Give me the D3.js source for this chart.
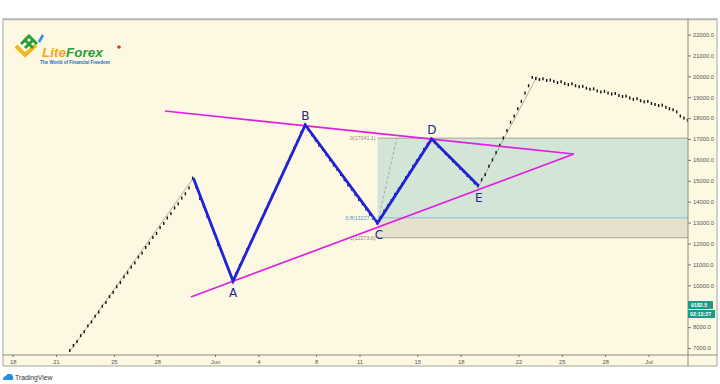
<!DOCTYPE html>
<html lang="en-US">
<head>
<meta charset="utf-8">
<style>
  body { margin: 0; background: #fff; }
  svg { display: block; font-family: "Liberation Sans", Arial, sans-serif; }
</style>
</head>
<body>
<div id="chart"></div>
<script src="https://cdnjs.cloudflare.com/ajax/libs/d3/7.8.5/d3.min.js"></script>
<script>
var WIDTH = 720, HEIGHT = 384;

// 6-hour bars starting 2019-05-22 00:00
var barStart = new Date(2019, 4, 22, 0);
var barHours = 6;
var closes = [
  6880, 7120, 7310, 7590, 7780, 8060, 8250, 8520, 8720, 9000, 9180, 9460, 9660, 9930, 10130, 10400,
  10600, 10870, 11070, 11350, 11540, 11810, 12010, 12290, 12480, 12760, 12960, 13220, 13430, 13700,
  13900, 14170, 14380, 14660, 15130,
  14700, 14150, 13800, 13300, 12900, 12500, 11950, 11600, 11150, 10700, 10200,
  10550, 10950, 11300, 11700, 12050, 12400, 12800, 13150, 13550, 13900, 14300, 14650, 15050, 15400,
  15800, 16150, 16550, 16900, 17300, 17670,
  17450, 17200, 16950, 16700, 16500, 16250, 16000, 15750, 15550, 15300, 15050, 14800, 14600, 14350,
  14100, 13900, 13650, 13400, 13200, 12980,
  13250, 13550, 13800, 14050, 14350, 14600, 14850, 15150, 15400, 15700, 15950, 16200, 16500, 16750, 17000,
  16850, 16650, 16500, 16300, 16150, 15950, 15800, 15600, 15450, 15250, 15100, 14900, 14750,
  15050, 15300, 15700, 16000, 16350, 16700, 17050, 17400, 17800, 18100, 18450, 18800, 19200, 19550, 19950,
  19900, 19850, 19880, 19800, 19820, 19760, 19700, 19740, 19650, 19600, 19640, 19550, 19500, 19520,
  19430, 19380, 19400, 19300, 19250, 19280, 19200, 19150, 19180, 19080, 19030, 19050, 18960, 18900,
  18930, 18830, 18780, 18800, 18700, 18650, 18600, 18620, 18520, 18450, 18400, 18300, 18100, 18000, 17900
];

// wave points
var waveDates = [new Date(2019, 4, 30, 12), new Date(2019, 5, 2, 6), new Date(2019, 5, 7, 6),
                 new Date(2019, 5, 12, 6), new Date(2019, 5, 16, 0), new Date(2019, 5, 19, 6)];
var wavePrices = [15130, 10200, 17670, 12980, 17000, 14750];
var waveLabels = ["", "A", "B", "C", "D", "E"];
var waveLabelSide = [0, 1, -1, 1, -1, 1];

// triangle lines
var upperLine = [[new Date(2019, 4, 28, 13), 18340], [new Date(2019, 5, 25, 20), 16282]];
var lowerLine = [[new Date(2019, 4, 30, 8), 9440], [new Date(2019, 5, 25, 20), 16282]];

// thin grey guide lines
var guideLines = [
  [[new Date(2019, 4, 22, 0), 6880], [new Date(2019, 4, 30, 12), 15130]],
  [[new Date(2019, 5, 19, 6), 14750], [new Date(2019, 5, 23, 7), 20000]]
];
var dashLine = [[new Date(2019, 5, 12, 6), 12980], [new Date(2019, 5, 13, 14), 17041.1]];

// fibonacci levels
var fibStart = new Date(2019, 5, 12, 6);
var fibLevels = [17041.1, 13227.1, 12273.6];
var fibNames = ["0(17041.1)", "0.8(13227.1)", "1(12273.6)"];

// 9000 is hidden behind the last-price tag
var priceTicks = [7000, 8000, 10000, 11000, 12000, 13000, 14000, 15000, 16000, 17000, 18000, 19000, 20000, 21000, 22000];
var dateTicks = [new Date(2019, 4, 18), new Date(2019, 4, 21), new Date(2019, 4, 25), new Date(2019, 4, 28),
                 new Date(2019, 5, 1), new Date(2019, 5, 4), new Date(2019, 5, 8), new Date(2019, 5, 11),
                 new Date(2019, 5, 15), new Date(2019, 5, 18), new Date(2019, 5, 22), new Date(2019, 5, 25),
                 new Date(2019, 5, 28), new Date(2019, 6, 1)];
var lastPrice = "9182.5", countdown = "02:13:27";

var pLeft = 3, pTop = 19, axisX = 688, pRight = 717, plotBottom = 355, pBottom = 366;

var x = d3.scaleTime()
  .domain([new Date(2019, 4, 18), new Date(2019, 6, 1)])
  .range([12.7, 648.5]);
var y = d3.scaleLinear().domain([7000, 22000]).range([348, 34.5]);

var svg = d3.select("#chart").append("svg").attr("width", WIDTH).attr("height", HEIGHT);

svg.append("rect").attr("x", pLeft).attr("y", pTop).attr("width", pRight - pLeft).attr("height", pBottom - pTop)
  .attr("fill", "#fdf8e2");

var defs = svg.append("defs");
defs.append("clipPath").attr("id", "plot").append("rect")
  .attr("x", pLeft).attr("y", pTop).attr("width", axisX - pLeft).attr("height", plotBottom - pTop);

var plot = svg.append("g").attr("clip-path", "url(#plot)");

// fib zones
var fx = x(fibStart);
plot.append("rect").attr("x", fx).attr("y", y(fibLevels[0]))
  .attr("width", axisX - fx).attr("height", y(fibLevels[1]) - y(fibLevels[0])).attr("fill", "#d3e5d7");
plot.append("rect").attr("x", fx).attr("y", y(fibLevels[1]))
  .attr("width", axisX - fx).attr("height", y(fibLevels[2]) - y(fibLevels[1])).attr("fill", "#e5e1cd");
var fibColors = ["#a3a39a", "#86bfdc", "#a3a39a"];
fibLevels.forEach(function (v, i) {
  plot.append("line").attr("x1", fx).attr("x2", axisX).attr("y1", y(v)).attr("y2", y(v))
    .attr("stroke", fibColors[i]).attr("stroke-width", 1);
  svg.append("text").attr("x", fx - 2).attr("y", y(v) + 2).attr("text-anchor", "end")
    .attr("font-size", 5.3).attr("fill", i === 1 ? "#4f95bf" : "#8a8a80").text(fibNames[i]);
});

var line = d3.line().x(function (d) { return x(d[0]); }).y(function (d) { return y(d[1]); });

guideLines.forEach(function (g) {
  plot.append("path").attr("d", line(g)).attr("fill", "none").attr("stroke", "#9c9c94").attr("stroke-width", 0.8);
});
plot.append("path").attr("d", line(dashLine)).attr("fill", "none").attr("stroke", "#a0a09a")
  .attr("stroke-width", 0.8).attr("stroke-dasharray", "3,2");

// price bars
plot.selectAll("rect.bar").data(closes).join("rect").attr("class", "bar")
  .attr("x", function (d, i) { return x(d3.timeHour.offset(barStart, i * barHours)) - 1.4; })
  .attr("y", function (d) { return y(d) - 1.5; })
  .attr("width", 1.4).attr("height", 3).attr("fill", "#111");

// triangle
[upperLine, lowerLine].forEach(function (g) {
  plot.append("path").attr("d", line(g)).attr("fill", "none").attr("stroke", "#e01ee0").attr("stroke-width", 1.7);
});

// wave
var wave = waveDates.map(function (d, i) { return [d, wavePrices[i]]; });
plot.append("path").attr("d", line(wave)).attr("fill", "none").attr("stroke", "#1e22d8")
  .attr("stroke-width", 2.8).attr("stroke-linejoin", "miter");
wave.forEach(function (d, i) {
  if (!waveLabels[i]) return;
  svg.append("text").attr("x", x(d[0]) + (waveLabels[i] === "C" ? 1.5 : 0))
    .attr("y", y(d[1]) + (waveLabelSide[i] > 0 ? 16 : -5))
    .attr("text-anchor", "middle").attr("font-size", 12).attr("font-family", "DejaVu Sans, sans-serif")
    .attr("fill", "#1c2a8c").text(waveLabels[i]);
});

// frame and axes
svg.append("rect").attr("x", pLeft).attr("y", pTop).attr("width", pRight - pLeft).attr("height", pBottom - pTop)
  .attr("fill", "none").attr("stroke", "#a5a5a0").attr("stroke-width", 1);
svg.append("line").attr("x1", pLeft).attr("x2", pRight).attr("y1", pTop + 0.5).attr("y2", pTop + 0.5)
  .attr("stroke", "#b5b5b0").attr("stroke-width", 1.5);

var yAxis = svg.append("g").attr("transform", "translate(" + axisX + ",0)")
  .call(d3.axisRight(y).tickValues(priceTicks).tickSize(3).tickPadding(2)
    .tickFormat(function (d) { return d3.format(".1f")(d); }));
yAxis.select(".domain").attr("d", "M0," + pTop + "V" + pBottom).attr("stroke", "#8a8a85");
yAxis.selectAll(".tick line").attr("stroke", "#777");
yAxis.selectAll("text").attr("font-size", 5.8).attr("fill", "#555");

var xAxis = svg.append("g").attr("transform", "translate(0," + plotBottom + ")")
  .call(d3.axisBottom(x).tickValues(dateTicks).tickSize(2).tickPadding(3)
    .tickFormat(function (d) {
      if (d.getDate() === 1) return d3.timeFormat("%b")(d);
      return d.getDate();
    }));
xAxis.select(".domain").attr("d", "M" + pLeft + ",0H" + pRight).attr("stroke", "#8a8a85");
xAxis.selectAll(".tick line").attr("stroke", "#777");
xAxis.selectAll("text").attr("font-size", 5.8).attr("fill", "#555");

// last price labels
svg.append("rect").attr("x", axisX).attr("y", 301).attr("width", 25).attr("height", 8).attr("fill", "#1e9a8a");
svg.append("text").attr("x", axisX + 3).attr("y", 307).attr("font-size", 5.3).attr("font-weight", "bold")
  .attr("fill", "#fff").text(lastPrice);
svg.append("rect").attr("x", axisX).attr("y", 310).attr("width", 27).attr("height", 8).attr("fill", "#1e9a8a");
svg.append("text").attr("x", axisX + 2).attr("y", 316.3).attr("font-size", 5.3).attr("font-weight", "bold")
  .attr("fill", "#fff").text(countdown);

// LiteForex logo
var logo = svg.append("g");
logo.append("path").attr("d", "M16,46 L25,55 L36,45").attr("fill", "none").attr("stroke", "#f4b71c")
  .attr("stroke-width", 4).attr("stroke-linejoin", "miter");
logo.append("path").attr("d", "M21,44 L29,36 L37,44 M25,48 L33,40 M29,36 L25,40 L33,48")
  .attr("fill", "none").attr("stroke", "#2a9d3a").attr("stroke-width", 3);
logo.append("path").attr("d", "M39,42 L43,35").attr("fill", "none").attr("stroke", "#2f8fe0").attr("stroke-width", 2.6);
var lt = logo.append("text").attr("x", 42).attr("y", 57).attr("font-size", 13.5).attr("font-weight", "bold")
  .attr("font-style", "italic").attr("font-family", "Liberation Sans, Arial, sans-serif");
lt.append("tspan").attr("fill", "#f3a51c").text("Lite");
lt.append("tspan").attr("fill", "#2c9e3c").text("Forex");
logo.append("circle").attr("cx", 119).attr("cy", 47).attr("r", 1.8).attr("fill", "#e0302a");
logo.append("text").attr("x", 40).attr("y", 64).attr("font-size", 4.6).attr("font-weight", "bold")
  .attr("fill", "#1f6fc0").text("The World of Financial Freedom");

// TradingView mark
var tv = svg.append("g");
tv.append("path").attr("d", "M3,380 Q3,376 6,376 Q7,373 10,374 Q13,374 13,377 Q14,380 12,380 Z").attr("fill", "#2a8de0");
tv.append("text").attr("x", 15).attr("y", 380).attr("font-size", 6.8).attr("fill", "#333").text("TradingView");
</script>
</body>
</html>
